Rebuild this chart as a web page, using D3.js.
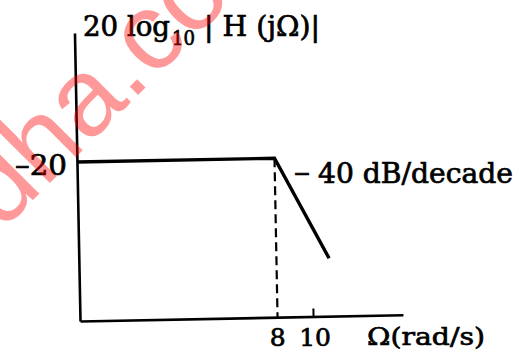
<!DOCTYPE html>
<html>
<head>
<meta charset="utf-8">
<script src="https://cdn.jsdelivr.net/npm/d3@7/dist/d3.min.js"></script>
<style>
  html, body { margin: 0; padding: 0; background: #fff; }
  svg { display: block; }
  text.lbl { font-family: "DejaVu Serif", serif; fill: #000; stroke: #000; stroke-width: 0.7px; }
</style>
</head>
<body>
<div id="chart"></div>
<script>
// ---- data ----
const omegaPoints = [2.31, 8, 11.14];      // rad/s: start at axis, corner, end of slope
const magPoints   = [-20, -20, -25.76];    // dB
const omegaDomain = [2.31, 17.6];
const magDomain   = [-29.06, -12.65];
const omegaTickValues = [8, 10];
const omegaTickLabels = ["8", "10"];
const magTickValues = [-20];
const magTickLabels = ["\u201320"];
const cornerOmega = 8;
const slopeDash = "\u2013";
const slopeLabel = "40 dB/decade";
const xAxisLabel = "\u03A9(rad/s)";
const watermark = "udha.com";

const W = 524, H = 352;
const svg = d3.select("#chart").append("svg").attr("width", W).attr("height", H);

const x = d3.scaleLog().domain(omegaDomain).range([80, 403]);
const y = d3.scaleLinear().domain(magDomain).range([321, 33]);

// plot drawn slightly tilted like the scanned figure
const plot = svg.append("g").attr("transform", "rotate(-1.1 80 321)");

// x axis (bottom) with a small tick at 10
const xAxis = d3.axisBottom(x).tickValues([omegaTickValues[1]]).tickSizeInner(-8).tickSizeOuter(0).tickFormat("");
const gx = plot.append("g").attr("transform", `translate(0,${y.range()[0]})`).call(xAxis);
gx.select(".domain").attr("stroke", "#000").attr("stroke-width", 2.6);
gx.selectAll(".tick line").attr("stroke", "#000").attr("stroke-width", 2);

// y axis (left), no ticks
const yAxis = d3.axisLeft(y).tickValues([]).tickSizeOuter(0);
const gy = plot.append("g").attr("transform", `translate(${x.range()[0]},0)`).call(yAxis);
gy.select(".domain").attr("stroke", "#000").attr("stroke-width", 2.6);

// dashed line at corner frequency
plot.append("line")
  .attr("x1", x(cornerOmega)).attr("x2", x(cornerOmega))
  .attr("y1", y(magPoints[1])).attr("y2", y.range()[0])
  .attr("stroke", "#000").attr("stroke-width", 2.2)
  .attr("stroke-dasharray", "9,5");

// magnitude asymptote
const pts = omegaPoints.map((w, i) => [w, magPoints[i]]);
plot.append("path")
  .datum(pts)
  .attr("d", d3.line().x(d => x(d[0])).y(d => y(d[1])))
  .attr("fill", "none").attr("stroke", "#000").attr("stroke-width", 3.4)
  .attr("stroke-linejoin", "miter");

// ---- texts (not tilted) ----
const labels = svg.append("g");

// y-axis title: 20 log10 |H (jΩ)|
labels.append("text").attr("class", "lbl").attr("x", 83).attr("y", 36).attr("font-size", 27)
  .attr("textLength", 87).attr("lengthAdjust", "spacingAndGlyphs").text("20 log");
labels.append("text").attr("class", "lbl").attr("x", 172).attr("y", 45).attr("font-size", 20)
  .attr("textLength", 23).attr("lengthAdjust", "spacingAndGlyphs").text("10");
labels.append("text").attr("class", "lbl").attr("x", 204).attr("y", 36).attr("font-size", 27)
  .attr("textLength", 116).attr("lengthAdjust", "spacingAndGlyphs").text("| H (j\u03A9)|");

// y tick label
magTickValues.forEach((v, i) => {
  labels.append("text").attr("class", "lbl").attr("x", 15).attr("y", y(v) + 13).attr("font-size", 27)
    .attr("textLength", 52).attr("lengthAdjust", "spacingAndGlyphs").text(magTickLabels[i]);
});

// x tick labels
omegaTickValues.forEach((v, i) => {
  labels.append("text").attr("class", "lbl").attr("x", x(v) + (i === 1 ? 2 : 0)).attr("y", 346).attr("font-size", 25)
    .attr("text-anchor", "middle").text(omegaTickLabels[i]);
});

// x axis label
labels.append("text").attr("class", "lbl").attr("x", 367).attr("y", 345).attr("font-size", 25)
  .attr("textLength", 118).attr("lengthAdjust", "spacingAndGlyphs").text(xAxisLabel);

// slope annotation
labels.append("text").attr("class", "lbl").attr("x", 294).attr("y", 182).attr("font-size", 27)
  .attr("textLength", 16).attr("lengthAdjust", "spacingAndGlyphs").text(slopeDash);
labels.append("text").attr("class", "lbl").attr("x", 318).attr("y", 183).attr("font-size", 27)
  .attr("textLength", 195).attr("lengthAdjust", "spacingAndGlyphs").text(slopeLabel);

// watermark (on top, translucent red)
svg.append("text")
  .attr("transform", "translate(-42,275) rotate(-45)")
  .style("font-family", "'Liberation Sans', Arial, sans-serif")
  .style("font-size", "110px")
  .style("fill", "red").style("fill-opacity", 0.4)
  .text(watermark);
</script>
</body>
</html>
